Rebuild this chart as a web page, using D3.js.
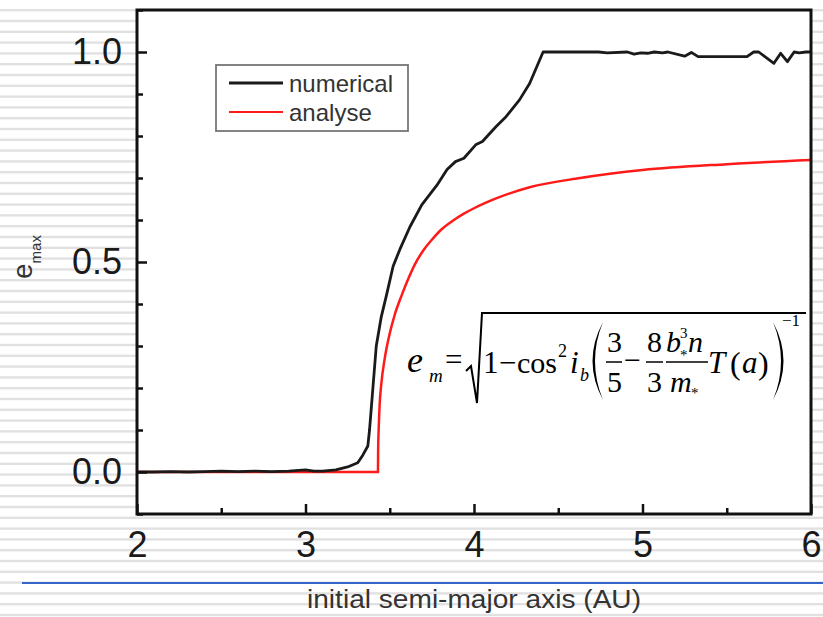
<!DOCTYPE html>
<html><head><meta charset="utf-8">
<script src="https://cdn.jsdelivr.net/npm/d3@7"></script>
<style>body{margin:0;background:#fff}svg{display:block}</style>
</head><body>
<script>
// ---- data ----
const numX = [2.0,2.1,2.2,2.3,2.4,2.5,2.6,2.7,2.8,2.9,3.0,3.05,3.1,3.18,3.25,3.31,3.34,3.37,3.38,3.40,3.42,3.45,3.48,3.52,3.56,3.62,3.69,3.78,3.84,3.89,3.94,4.01,4.05,4.13,4.19,4.27,4.33,4.41,4.74,4.79,4.91,4.95,4.99,5.03,5.07,5.12,5.15,5.25,5.29,5.33,5.62,5.66,5.69,5.78,5.82,5.86,5.90,5.93,5.97,6.0];
const numY = [0.000,0.000,0.001,0.000,0.001,0.002,0.001,0.002,0.001,0.002,0.005,0.002,0.002,0.005,0.012,0.022,0.040,0.062,0.10,0.20,0.30,0.37,0.42,0.49,0.53,0.584,0.636,0.683,0.72,0.739,0.747,0.779,0.787,0.822,0.846,0.886,0.925,1.0,1.0,0.998,1.0,0.995,0.998,0.997,1.0,0.998,1.0,0.99,0.999,0.989,0.989,1.0,1.0,0.973,0.997,0.977,1.0,0.998,1.0,1.0];
const anaX = [2.0,3.43,3.431,3.435,3.44,3.45,3.47,3.5,3.53,3.57,3.61,3.65,3.7,3.75,3.8,3.87,3.94,4.0,4.135,4.33,4.63,5.0,5.5,6.0];
const anaY = [0,0,0.05,0.11,0.16,0.21,0.27,0.33,0.375,0.42,0.46,0.495,0.528,0.553,0.575,0.597,0.615,0.628,0.652,0.678,0.70,0.719,0.733,0.743];
const xMajor = [2,3,4,5,6];
const xMinor = [2.5,3.5,4.5,5.5];
const yMajor = [0.0,0.5,1.0];
const yMinor = [-0.1,0.1,0.2,0.3,0.4,0.6,0.7,0.8,0.9,1.1];
const seriesNames = ["numerical","analyse"];
const seriesColors = ["#1a1a1a","#ff1a1a"];
const xTitle = "initial semi-major axis (AU)";

const W = 823, H = 617;
const svg = d3.select("body").append("svg").attr("width",W).attr("height",H);

// background stripes
svg.append("g").selectAll("rect").data(d3.range(9, H, 10.8)).join("rect")
  .attr("x",0).attr("y",d=>d).attr("width",W).attr("height",2.4).attr("fill","#e1e1e1");

const L=137, R=811, T=10, B=514;
const x = d3.scaleLinear().domain([2,6]).range([L,R]);
const y = d3.scaleLinear().domain([-0.1,1.1]).range([B,T]);

svg.append("rect").attr("x",L).attr("y",T).attr("width",R-L).attr("height",B-T).attr("fill","#fff");

// blue rule
svg.append("line").attr("x1",22).attr("x2",W).attr("y1",583).attr("y2",583)
  .attr("stroke","#3565c9").attr("stroke-width",2);

// curves
svg.append("clipPath").attr("id","c").append("rect").attr("x",L).attr("y",T).attr("width",R-L).attr("height",B-T);
const g = svg.append("g").attr("clip-path","url(#c)");
const ana = anaX.map((v,i)=>[v,anaY[i]]);
const num = numX.map((v,i)=>[v,numY[i]]);
g.append("path").datum(ana).attr("fill","none").attr("stroke",seriesColors[1]).attr("stroke-width",2.5)
  .attr("d", d3.line().x(d=>x(d[0])).y(d=>y(d[1])).curve(d3.curveMonotoneX));
g.append("path").datum(num).attr("fill","none").attr("stroke",seriesColors[0]).attr("stroke-width",2.8)
  .attr("stroke-linejoin","round")
  .attr("d", d3.line().x(d=>x(d[0])).y(d=>y(d[1])));

// axes
const font = "'Liberation Sans', Arial, sans-serif";
function styleAxis(sel){
  sel.select(".domain").remove();
  sel.selectAll(".tick line").attr("stroke","#111").attr("stroke-width",2.5);
  sel.selectAll(".tick text").attr("fill","#1a1a1a").style("font-family",font).style("font-size","36px");
}
svg.append("g").attr("transform",`translate(0,${B})`)
  .call(d3.axisBottom(x).tickValues(xMajor).tickSize(-10).tickPadding(17).tickFormat(d3.format("d"))).call(styleAxis);
svg.append("g").attr("transform",`translate(0,${B})`)
  .call(d3.axisBottom(x).tickValues(xMinor).tickSize(-6).tickFormat("")).call(styleAxis);
svg.append("g").attr("transform",`translate(${L},0)`)
  .call(d3.axisLeft(y).tickValues(yMajor).tickSize(-10).tickPadding(15).tickFormat(d3.format(".1f"))).call(styleAxis);
svg.append("g").attr("transform",`translate(${L},0)`)
  .call(d3.axisLeft(y).tickValues(yMinor).tickSize(-6).tickFormat("")).call(styleAxis);

// frame
svg.append("rect").attr("x",L).attr("y",T).attr("width",R-L).attr("height",B-T)
  .attr("fill","none").attr("stroke","#111").attr("stroke-width",3);

// legend
const lg = svg.append("g");
lg.append("rect").attr("x",216).attr("y",65).attr("width",192).attr("height",66)
  .attr("fill","#fff").attr("stroke","#777").attr("stroke-width",1.8);
[83,112].forEach((yy,i)=>{
  lg.append("line").attr("x1",229).attr("x2",283).attr("y1",yy).attr("y2",yy)
    .attr("stroke",seriesColors[i]).attr("stroke-width",i==0?3:2);
  lg.append("text").attr("x",289).attr("y",yy+8.5).text(seriesNames[i])
    .attr("fill","#333").style("font-family",font).style("font-size","24px");
});

// axis titles
svg.append("text").attr("x",307).attr("y",608).text(xTitle)
  .attr("textLength",334).attr("lengthAdjust","spacingAndGlyphs")
  .attr("fill","#333").style("font-family",font).style("font-size","26px");
const yl = svg.append("text").attr("transform","translate(32,279) rotate(-90)")
  .attr("fill","#333").style("font-family",font);
yl.append("tspan").text("e").style("font-size","28px");
yl.append("tspan").text("max").attr("dy",9).style("font-size","15px");

// formula
const f = svg.append("g").style("font-family","'Liberation Serif','Times New Roman',serif").attr("fill","#000");
function t(str,xx,yy,size,ital){
  f.append("text").attr("x",xx).attr("y",yy).text(str).style("font-size",size+"px")
    .style("font-style",ital?"italic":"normal");
}
function bar(x1,x2){
  f.append("line").attr("x1",x1).attr("x2",x2).attr("y1",362).attr("y2",362).attr("stroke","#000").attr("stroke-width",1.5);
}
t("e",407,372,36,true); t("m",429,382,19,true);
t("=",445,370,31,false);
f.append("path").attr("d","M466,371 L471,366 L477,403 L482,313 L806,313")
  .attr("fill","none").attr("stroke","#000").attr("stroke-width",2);
t("1",483,373,31,false); t("\u2212",499,373,31,false); t("cos",517,373,30,false);
t("2",558,357,18,false); t("i",570,373,31,true); t("b",580,381,18,true);
f.append("path").attr("d","M603,322 Q582,361 603,400 Q587,361 603,322 Z");
t("3",607,352,30,false); t("5",607,392,30,false); bar(606,622);
t("\u2212",624,370,30,false);
t("8",647,352,30,false); t("3",647,392,30,false); bar(646,663);
t("b",666,352,30,true); t("3",680,338,15,false); t("*",680,360,15,false); t("n",688,352,30,true);
bar(666,708);
t("m",670,392,30,true); t("*",691,398,15,false);
t("T",708,373,31,true); t("(",730,374,32,false); t("a",742,373,31,true); t(")",758,374,32,false);
f.append("path").attr("d","M773,322 Q794,361 773,400 Q789,361 773,322 Z");
t("\u22121",782,326,17,false);
</script>
</body></html>
